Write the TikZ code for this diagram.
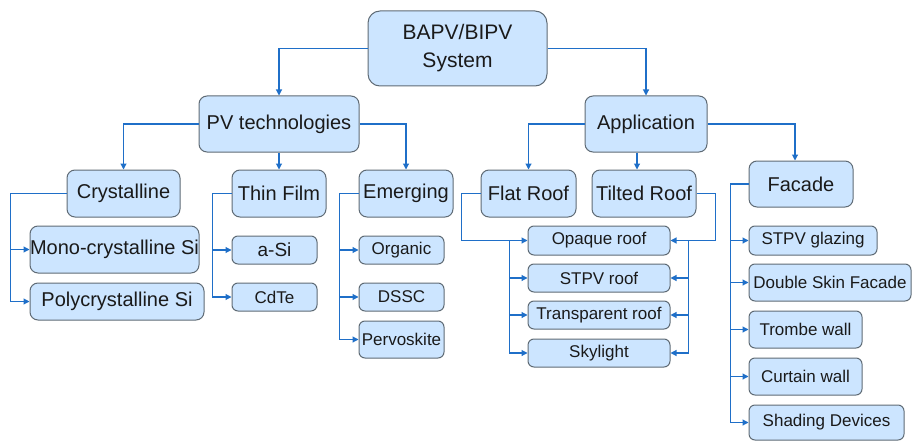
\documentclass[tikz,border=0pt]{standalone}
\usepackage{fontspec}
\setmainfont{Liberation Sans}
\usetikzlibrary{arrows.meta}
\definecolor{boxfill}{HTML}{CCE5FF}
\definecolor{boxline}{HTML}{5F6B75}
\definecolor{linkblue}{HTML}{1F6FC8}
\definecolor{txt}{HTML}{1A1A1A}
\tikzset{
  box/.style={draw=boxline, fill=boxfill, line width=1pt, rounded corners=8pt,
    inner sep=0pt, text=txt, align=center, font=\fontsize{20}{24}\selectfont},
  smallbox/.style={box, rounded corners=6pt, font=\fontsize{17}{20}\selectfont},
  arr/.style={draw=linkblue, line width=1.1pt, -{Triangle[length=6pt,width=6pt]}},
}
\begin{document}
\begin{tikzpicture}[x=1pt,y=-1pt]
\useasboundingbox (0,0) rectangle (912,441);
% level 0
\node[box, minimum width=179pt, minimum height=75pt, rounded corners=12pt,
  font=\fontsize{21}{28}\selectfont] (root) at (457.5,48.5) {BAPV/BIPV\\System};
% level 1
\node[box, minimum width=160pt, minimum height=56pt] (pv) at (279,124) {PV technologies};
\node[box, minimum width=122pt, minimum height=56pt] (app) at (646,124) {Application};
% level 2
\node[box, minimum width=113pt, minimum height=47pt] (cry) at (123.5,193.5) {Crystalline};
\node[box, minimum width=94pt, minimum height=47pt] (thin) at (279,193.5) {Thin Film};
\node[box, minimum width=94pt, minimum height=47pt] (emer) at (406,193.5) {Emerging};
\node[box, minimum width=95pt, minimum height=47pt] (flat) at (528.5,193.5) {Flat Roof};
\node[box, minimum width=104pt, minimum height=47pt] (tilt) at (644,193.5) {Tilted Roof};
\node[box, minimum width=104pt, minimum height=46pt] (fac) at (801,184) {Facade};
% crystalline leaves
\node[box, minimum width=169pt, minimum height=47pt] (mono) at (114.5,249.5) {Mono-crystalline Si};
\node[box, minimum width=174pt, minimum height=37pt] (poly) at (117,301.5) {Polycrystalline Si};
% thin film leaves
\node[smallbox, minimum width=85pt, minimum height=28pt, font=\fontsize{19}{22}\selectfont] (asi) at (274.5,250) {a-Si};
\node[smallbox, minimum width=85pt, minimum height=28pt] (cdte) at (274.5,297) {CdTe};
% emerging leaves
\node[smallbox, minimum width=85pt, minimum height=28pt] (org) at (401.5,250) {Organic};
\node[smallbox, minimum width=85pt, minimum height=28pt] (dssc) at (401.5,297) {DSSC};
\node[smallbox, minimum width=85pt, minimum height=37pt] (perv) at (401.5,339.5) {Pervoskite};
% roof leaves
\node[smallbox, minimum width=142pt, minimum height=29pt] (opq) at (599,240.5) {Opaque roof};
\node[smallbox, minimum width=142pt, minimum height=28pt] (stpvr) at (599,278) {STPV roof};
\node[smallbox, minimum width=142pt, minimum height=28pt] (trans) at (599,315) {Transparent roof};
\node[smallbox, minimum width=142pt, minimum height=28pt] (sky) at (599,353) {Skylight};
% facade leaves
\node[smallbox, minimum width=128pt, minimum height=29pt] (glz) at (813,240.5) {STPV glazing};
\node[smallbox, minimum width=162pt, minimum height=37pt] (dsf) at (830,282.5) {Double Skin Facade};
\node[smallbox, minimum width=113pt, minimum height=37pt] (trombe) at (805.5,329.5) {Trombe wall};
\node[smallbox, minimum width=113pt, minimum height=37pt] (curt) at (805.5,376.5) {Curtain wall};
\node[smallbox, minimum width=155pt, minimum height=35pt] (shade) at (826.5,422.5) {Shading Devices};
% connectors level 0 -> 1
\draw[arr] (root.west) -| (pv.north);
\draw[arr] (root.east) -| (app.north);
% PV -> level 2
\draw[arr] (pv.west) -| (cry.north);
\draw[arr] (pv.south) -- (thin.north);
\draw[arr] (pv.east) -| (emer.north);
% Application -> level 2
\draw[arr] (app.west) -| (flat.north);
\draw[arr] ([xshift=-9pt]app.south) -- ([xshift=-7pt]tilt.north);
\draw[arr] (app.east) -| ([xshift=-6pt]fac.north);
% Crystalline
\draw[arr] (cry.west) -- ++(-56,0) |- (mono.west);
\draw[arr] (cry.west) -- ++(-56,0) |- (poly.west);
% Thin film
\draw[arr] (thin.west) -- ++(-19,0) |- (asi.west);
\draw[arr] (thin.west) -- ++(-19,0) |- (cdte.west);
% Emerging
\draw[arr] (emer.west) -- ++(-19,0) |- (org.west);
\draw[arr] (emer.west) -- ++(-19,0) |- (dssc.west);
\draw[arr] (emer.west) -- ++(-19,0) |- (perv.west);
% Flat roof
\draw[arr] (flat.west) -- ++(-19,0) |- (opq.west);
\coordinate (fj) at ([xshift=-18pt]opq.west);
\draw[arr] (fj) |- (stpvr.west);
\draw[arr] (fj) |- (trans.west);
\draw[arr] (fj) |- (sky.west);
% Tilted roof
\draw[arr] (tilt.east) -- ++(19,0) |- (opq.east);
\coordinate (tj) at ([xshift=18pt]opq.east);
\draw[arr] (tj) |- (stpvr.east);
\draw[arr] (tj) |- (trans.east);
\draw[arr] (tj) |- (sky.east);
% Facade
\draw[arr] (fac.west) -- ++(-18,0) |- (glz.west);
\draw[arr] (fac.west) -- ++(-18,0) |- (dsf.west);
\draw[arr] (fac.west) -- ++(-18,0) |- (trombe.west);
\draw[arr] (fac.west) -- ++(-18,0) |- (curt.west);
\draw[arr] (fac.west) -- ++(-18,0) |- (shade.west);
\end{tikzpicture}
\end{document}
